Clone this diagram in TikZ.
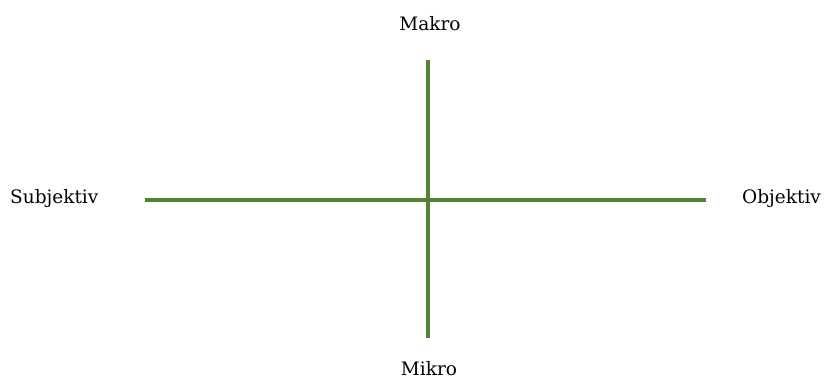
\documentclass[tikz,border=0pt]{standalone}
\usepackage{fontspec}
\setmainfont{DejaVu Serif}
\definecolor{axisgreen}{HTML}{548235}
\begin{document}
\begin{tikzpicture}[x=1pt,y=-1pt,
  axis/.style={draw=axisgreen,line width=3.2pt},
  lbl/.style={font=\fontsize{18.5}{21}\selectfont,inner sep=0pt,text=black}]
\useasboundingbox (0,0) rectangle (828,378);
\coordinate (l) at (145,200);
\coordinate (r) at (706,200);
\coordinate (t) at (428,60);
\coordinate (b) at (428,338);
\draw[axis] (l) -- (r);
\draw[axis] (t) -- (b);
\node[lbl,anchor=base] (makro) at (430,30) {Makro};
\node[lbl,anchor=base] (mikro) at (429,375) {Mikro};
\node[lbl,anchor=base west] (subj) at (10,203) {Subjektiv};
\node[lbl,anchor=base west] (obj) at (742,203) {Objektiv};
\end{tikzpicture}
\end{document}
